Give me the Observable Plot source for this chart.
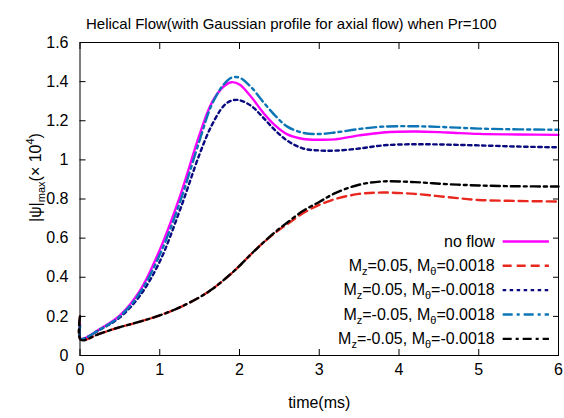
<!DOCTYPE html>
<html><head><meta charset="utf-8">
<script src="https://cdn.jsdelivr.net/npm/d3@7"></script>
<script src="https://cdn.jsdelivr.net/npm/@observablehq/plot@0.6"></script>
<style>
html,body{margin:0;padding:0;background:#fff;}
svg{font-family:"Liberation Sans",Arial,sans-serif;}
</style></head>
<body><div id="chart"></div>
<script>
const titleText = "Helical Flow(with Gaussian profile for axial flow) when Pr=100";
const xTicks = [0,1,2,3,4,5,6];
const yTicks = [0,0.2,0.4,0.6,0.8,1,1.2,1.4,1.6];
const time = [0,0.01,0.25,0.5,0.75,1.0,1.25,1.5,1.65,1.8,1.9,2.0,2.15,2.3,2.45,2.6,2.8,3.0,3.2,3.5,3.8,4.2,4.6,5.0,5.5,6.0];
const noFlow   = [0.16,0.085,0.135,0.205,0.33,0.54,0.81,1.13,1.29,1.375,1.397,1.385,1.32,1.24,1.175,1.13,1.107,1.103,1.105,1.125,1.14,1.145,1.14,1.133,1.13,1.128];
const mzPmtP   = [0.2,0.08,0.112,0.145,0.173,0.205,0.246,0.298,0.337,0.385,0.42,0.458,0.52,0.577,0.628,0.672,0.728,0.77,0.80,0.826,0.833,0.826,0.81,0.795,0.79,0.787];
const mzPmtN   = [0.15,0.085,0.132,0.195,0.305,0.48,0.74,1.03,1.175,1.275,1.303,1.305,1.275,1.215,1.15,1.098,1.058,1.048,1.047,1.058,1.074,1.08,1.078,1.074,1.068,1.064];
const mzNmtP   = [0.15,0.085,0.133,0.2,0.32,0.515,0.78,1.10,1.28,1.385,1.42,1.42,1.37,1.295,1.225,1.17,1.138,1.132,1.14,1.158,1.17,1.172,1.167,1.16,1.156,1.154];
const mzNmtN   = [0.2,0.08,0.112,0.145,0.173,0.205,0.246,0.298,0.337,0.385,0.42,0.458,0.52,0.578,0.632,0.68,0.74,0.785,0.83,0.873,0.89,0.886,0.876,0.869,0.865,0.864];
const seriesNames = ["no flow","Mz=0.05, Mθ=0.0018","Mz=0.05, Mθ=-0.0018","Mz=-0.05, Mθ=0.0018","Mz=-0.05, Mθ=-0.0018"];
const seriesValues = [noFlow, mzPmtP, mzPmtN, mzNmtP, mzNmtN];
const colors = ["#ff00ff","#e8281e","#0a0a80","#0b75b5","#000000"];
const dashes = [null,"9,5","3.5,3.5","10,4,3,4","9,4,3,4"];

const rows = [];
seriesNames.forEach((name,i)=>time.forEach((t,j)=>rows.push({series:i,t,v:seriesValues[i][j]})));

// legend in data coordinates
const legX1 = 5.3, legX2 = 5.88, legTextX = 5.2, legY0 = 0.583, legStep = 0.1245;
const legend = seriesNames.map((name,i)=>({i,name,y:legY0 - i*legStep}));

const font = 16;
const marks = [];
seriesNames.forEach((n,i)=>{
  marks.push(Plot.line(rows.filter(r=>r.series===i),{x:"t",y:"v",stroke:colors[i],strokeWidth:2.4,strokeDasharray:dashes[i],curve:"catmull-rom"}));
  marks.push(Plot.link([legend[i]],{x1:()=>legX1,x2:()=>legX2,y1:"y",y2:"y",stroke:colors[i],strokeWidth:2.4,strokeDasharray:dashes[i]}));
});
marks.push(Plot.text(legend,{x:()=>legTextX,y:"y",text:"name",textAnchor:"end",fontSize:font,fill:"#000"}));
marks.push(Plot.frame({stroke:"#000",strokeWidth:1}));
marks.push(Plot.axisX({ticks:xTicks,tickSize:-6,tickPadding:14,fontSize:font,label:null,tickFormat:d=>String(d)}));
marks.push(Plot.axisX({anchor:"top",ticks:xTicks,tickSize:-6,tickFormat:()=>"",label:null}));
marks.push(Plot.axisY({ticks:yTicks,tickSize:-6,tickPadding:17.5,fontSize:font,label:null,tickFormat:d=>String(d)}));
marks.push(Plot.axisY({anchor:"right",ticks:yTicks,tickSize:-6,tickFormat:()=>"",label:null}));
marks.push(Plot.text([titleText],{frameAnchor:"top",dx:-28,dy:-24,fontSize:15,fill:"#000"}));
marks.push(Plot.text(["time(ms)"],{frameAnchor:"bottom",dy:52,fontSize:font,fill:"#000"}));
marks.push(Plot.text(["YLABEL"],{frameAnchor:"left",textAnchor:"middle",dx:-44,dy:-21.5,rotate:-90,fontSize:font,fill:"#000"}));

const chart = Plot.plot({
  width:564,height:418,
  marginLeft:79.5,marginRight:6,marginTop:42,marginBottom:63,
  x:{domain:[0,6]},
  y:{domain:[0,1.6]},
  style:{fontFamily:"'Liberation Sans',Arial,sans-serif",color:"#000",background:"#fff"},
  marks
});
document.getElementById("chart").appendChild(chart);

// rich text: subscripts / superscripts
chart.querySelectorAll("text").forEach(t=>{
  const s = t.textContent;
  if (s === "YLABEL") {
    t.innerHTML = '|ψ|<tspan font-size="11" dy="4">max</tspan><tspan dy="-4">(× 10</tspan><tspan font-size="11" dy="-7">4</tspan><tspan dy="7">)</tspan>';
  } else if (/M[zθ]=/.test(s)) {
    const m = s.match(/^Mz=(.*), Mθ=(.*)$/);
    t.innerHTML = 'M<tspan font-size="11" dy="4">z</tspan><tspan dy="-4">=' + m[1] + ', M</tspan><tspan font-size="11" dy="4">θ</tspan><tspan dy="-4">=' + m[2] + '</tspan>';
  }
});
</script></body></html>
